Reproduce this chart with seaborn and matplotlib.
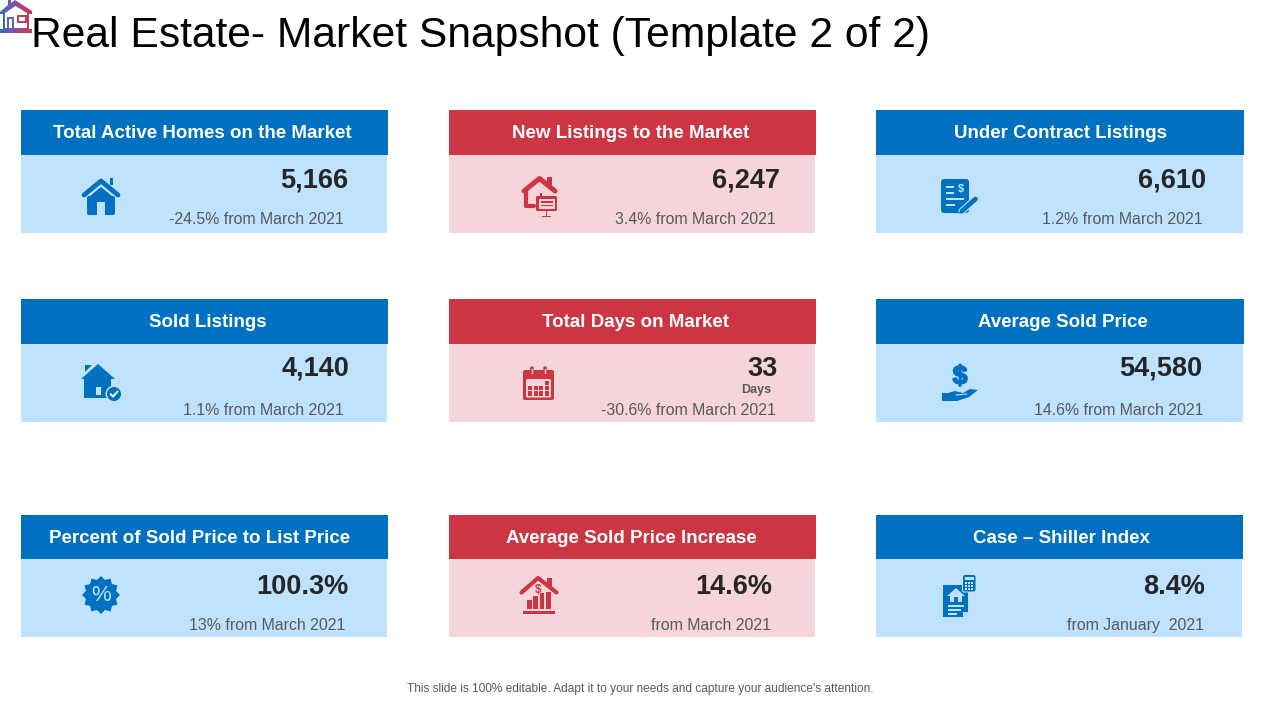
import numpy as np
import matplotlib
matplotlib.use('Agg')
import matplotlib.pyplot as plt
import matplotlib.patheffects as pe
import seaborn as sns
from matplotlib.patches import Rectangle, Polygon, Circle, FancyBboxPatch

# card contents, row by row
TITLES = ["Total Active Homes on the Market", "New Listings to the Market", "Under Contract Listings",
          "Sold Listings", "Total Days on Market", "Average Sold Price",
          "Percent of Sold Price to List Price", "Average Sold Price Increase", "Case \u2013 Shiller Index"]
VALUES = ["5,166", "6,247", "6,610",
          "4,140", "33", "54,580",
          "100.3%", "14.6%", "8.4%"]
CHANGES = ["-24.5% from March 2021", "3.4% from March 2021", "1.2% from March 2021",
           "1.1% from March 2021", "-30.6% from March 2021", "14.6% from March 2021",
           "13% from March 2021", "from March 2021", "from January  2021"]
SLIDE_TITLE = "Real Estate- Market Snapshot (Template 2 of 2)"
FOOTER = "This slide is 100% editable. Adapt it to your needs and capture your audience's attention."

BLUE = "#0070c0"
RED = "#cc3643"
LIGHT_BLUE = "#bfe2ff"
LIGHT_RED = "#f5d5d9"
BLACK_TXT = "#262626"
GREY_TXT = "#595959"

# layout in slide pixels
COL_X = [21, 449, 876]
ROW_Y = [110, 299, 515]
HEAD_H = [45, 45, 44]
BODY_BOTTOM = [233, 422, 637]
HEAD_W = [367, 367, 368, 367, 367, 368, 367, 367, 367]
BODY_W = [366, 366, 367, 366, 366, 367, 366, 366, 366]
TITLE_X = [202, 631, 1060, 208, 635, 1063, 200, 631, 1061]
VALUE_X = [348, 780, 1206, 349, 778, 1202, 348, 772, 1205]
CHANGE_X = [344, 776, 1203, 344, 776, 1204, 345, 771, 1204]
TITLE_BASE = [138, 327, 543]
VALUE_BASE = [187, 376, 594]
CHANGE_BASE = [224, 415, 630]

sns.set_theme(style="white")
plt.rcParams['font.family'] = ['Liberation Sans', 'DejaVu Sans']

fig = plt.figure(figsize=(12.8, 7.2), dpi=100)
ax = fig.add_axes([0, 0, 1, 1])
ax.set_xlim(0, 1280)
ax.set_ylim(720, 0)
ax.axis("off")


def poly(pts, color, ox, oy, z=4):
    ax.add_patch(Polygon([(ox + x, oy + y) for x, y in pts], closed=True, fc=color, ec="none", zorder=z))


def rect(x, y, w, h, color, z=4):
    ax.add_patch(Rectangle((x, y), w, h, fc=color, ec="none", zorder=z))


def round_rect(x, y, w, h, color, r=2, z=4):
    ax.add_patch(FancyBboxPatch((x + r, y + r), w - 2 * r, h - 2 * r, boxstyle=f"round,pad={r}",
                                fc=color, ec="none", zorder=z))


def line(xs, ys, color, lw=2, z=5):
    ax.plot(xs, ys, color=color, lw=lw, solid_capstyle="round", zorder=z)


def icon_home(ox, oy):
    line([ox + 2, ox + 19, ox + 36], [oy + 17, oy + 3, oy + 17], BLUE, lw=3.4)
    rect(ox + 28, oy, 3.2, 7, BLUE)
    round_rect(ox + 5, oy + 18, 28, 19, BLUE, r=2)
    poly([(19, 9), (33, 20.5), (5, 20.5)], BLUE, ox, oy)
    rect(ox + 15, oy + 24, 8, 13, LIGHT_BLUE, z=5)


def icon_listing(ox, oy):
    line([ox + 2, ox + 17.5, ox + 33], [oy + 15, oy + 2.5, oy + 15], RED, lw=3.6)
    rect(ox + 25, oy + 1, 4.5, 8, RED)
    line([ox + 4, ox + 4, ox + 12], [oy + 14, oy + 30, oy + 30], RED, lw=3)
    rect(ox + 18, oy + 17, 1.5, 3, RED)
    round_rect(ox + 14, oy + 20, 21, 15, RED, r=1.5)
    rect(ox + 16.5, oy + 23, 16, 9.5, LIGHT_RED, z=5)
    rect(ox + 18.5, oy + 25, 12, 1.6, RED, z=6)
    rect(ox + 18.5, oy + 28.5, 12, 1.6, RED, z=6)
    rect(ox + 23.5, oy + 35, 1.5, 6, RED)
    rect(ox + 20, oy + 40, 8.5, 1.3, RED)


def icon_contract(ox, oy):
    round_rect(ox, oy, 28, 34, BLUE, r=3)
    for yy, x1 in [(7, 13), (13, 13), (19, 23), (25, 14)]:
        rect(ox + 5, oy + yy, x1 - 5, 2, LIGHT_BLUE, z=5)
    ax.text(ox + 20, oy + 10, "$", color=LIGHT_BLUE, fontsize=8, fontweight="bold", ha="center", va="center", zorder=6)
    # pen
    line([ox + 21, ox + 34.5], [oy + 32, oy + 20], LIGHT_BLUE, lw=5, z=5)
    line([ox + 21, ox + 34.5], [oy + 32, oy + 20], BLUE, lw=3.4, z=6)
    poly([(18, 35), (19.5, 30), (23, 33.5)], BLUE, ox, oy, z=7)


def icon_sold(ox, oy):
    poly([(17, 0), (34, 15), (30, 15), (30, 34), (3, 34), (3, 15), (0, 15)], BLUE, ox, oy)
    poly([(4, 1), (11, 1), (4, 8)], BLUE, ox, oy)
    rect(ox + 15, oy + 23, 5, 8, LIGHT_BLUE, z=5)
    ax.add_patch(Circle((ox + 33, oy + 30), 8.5, fc=LIGHT_BLUE, ec="none", zorder=5))
    ax.add_patch(Circle((ox + 33, oy + 30), 7, fc=BLUE, ec="none", zorder=6))
    line([ox + 29.5, ox + 32, ox + 36.5], [oy + 30, oy + 32.5, oy + 27.5], "white", lw=1.4, z=7)


def icon_calendar(ox, oy):
    round_rect(ox, oy + 3, 31, 30, RED, r=2)
    for dx in (9, 22):
        line([ox + dx, ox + dx], [oy + 1, oy + 7], RED, lw=2.6, z=6)
        line([ox + dx, ox + dx], [oy + 1.5, oy + 5.5], LIGHT_RED, lw=1, z=7)
    round_rect(ox + 3, oy + 12, 25, 18.5, LIGHT_RED, r=1.5, z=5)
    cells = [(3, 0), (0, 1), (1, 1), (2, 1), (3, 1), (0, 2), (1, 2), (2, 2), (3, 2)]
    for col, row in cells:
        rect(ox + 5 + col * 5.5, oy + 14 + row * 5.2, 4.4, 4.2, RED, z=6)


def icon_hand(ox, oy):
    ax.text(ox + 18, oy + 11, "$", color=BLUE, fontsize=19, fontweight="bold", ha="center", va="center", zorder=5,
            path_effects=[pe.withStroke(linewidth=1.2, foreground=BLUE)])
    poly([(0, 27), (6, 27), (13, 25), (21, 27), (28, 23), (36, 24), (27, 31), (15, 35), (0, 35)], BLUE, ox, oy)
    line([ox + 14, ox + 25], [oy + 29, oy + 28], LIGHT_BLUE, lw=0.8, z=6)


def icon_percent(ox, oy):
    # scalloped star badge
    n = 12
    ang = np.arange(2 * n) * np.pi / n
    rad = np.where(np.arange(2 * n) % 2 == 0, 19, 15.5)
    pts = [(19 + r * np.sin(a), 19 - r * np.cos(a)) for r, a in zip(rad, ang)]
    poly(pts, BLUE, ox, oy)
    ax.text(ox + 19, oy + 19.5, "%", color=LIGHT_BLUE, fontsize=16, ha="center", va="center", zorder=6)


def icon_price_house(ox, oy):
    line([ox + 1.5, ox + 18, ox + 36.5], [oy + 16.5, oy + 2, oy + 16.5], RED, lw=3)
    rect(ox + 27, oy + 2, 5, 8, RED)
    ax.text(ox + 18, oy + 14, "$", color=RED, fontsize=8.5, fontweight="bold", ha="center", va="center", zorder=5)
    rect(ox + 7.3, oy + 24, 4.8, 9, RED)
    rect(ox + 13.3, oy + 20, 4.8, 13, RED)
    rect(ox + 19.5, oy + 17, 4.8, 16, RED)
    rect(ox + 26, oy + 16, 5, 17, RED)
    rect(ox + 2.7, oy + 34.5, 32.3, 3.5, RED)


def icon_calc_doc(ox, oy):
    poly([(0, 11), (25, 11), (25, 38), (20, 43), (0, 43)], BLUE, ox, oy)
    poly([(20, 38), (25, 38), (20, 43)], LIGHT_BLUE, ox, oy, z=5)
    poly([(13, 14), (22, 22), (19, 22), (19, 28), (7, 28), (7, 22), (4, 22)], LIGHT_BLUE, ox, oy, z=5)
    rect(ox + 11, oy + 23, 4, 5, BLUE, z=6)
    for yy, x2 in [(31, 21), (35, 18), (39, 14)]:
        rect(ox + 5, oy + yy, x2 - 5, 1.5, LIGHT_BLUE, z=5)
    round_rect(ox + 19, oy, 14.5, 18.5, LIGHT_BLUE, r=2, z=5)
    round_rect(ox + 20, oy + 1, 12.5, 16.5, BLUE, r=2, z=6)
    rect(ox + 22, oy + 3, 8.5, 3, LIGHT_BLUE, z=7)
    for cy in (8, 11, 14):
        for cx in (22, 25.2, 28.4):
            rect(ox + cx, oy + cy, 2, 2, LIGHT_BLUE, z=7)


ICONS = [icon_home, icon_listing, icon_contract, icon_sold, icon_calendar, icon_hand,
         icon_percent, icon_price_house, icon_calc_doc]
ICON_XY = [(82, 178), (522, 176), (941, 179), (81, 364), (523, 367), (942, 366),
           (82, 576), (520, 576), (943, 574)]

# cards
for i, (title, value, change) in enumerate(zip(TITLES, VALUES, CHANGES)):
    row, col = divmod(i, 3)
    is_red = col == 1
    x0 = COL_X[col]
    y0 = ROW_Y[row]
    rect(x0, y0 + HEAD_H[row], BODY_W[i], BODY_BOTTOM[row] - y0 - HEAD_H[row], LIGHT_RED if is_red else LIGHT_BLUE, z=1)
    rect(x0, y0, HEAD_W[i], HEAD_H[row], RED if is_red else BLUE, z=2)
    ax.text(TITLE_X[i], TITLE_BASE[row], title, color="white", fontsize=13.5, fontweight="bold",
            ha="center", va="baseline", zorder=3)
    ax.text(VALUE_X[i], VALUE_BASE[row], value, color=BLACK_TXT, fontsize=19.5, fontweight="bold",
            ha="right", va="baseline", zorder=3)
    ax.text(CHANGE_X[i], CHANGE_BASE[row], change, color=GREY_TXT, fontsize=11.4,
            ha="right", va="baseline", zorder=3)
    ICONS[i](*ICON_XY[i])

ax.text(771, 393, "Days", color=GREY_TXT, fontsize=9, fontweight="bold", ha="right", va="baseline", zorder=3)

# slide title and footer
ax.text(31, 47, SLIDE_TITLE, color="black", fontsize=30.7, ha="left", va="baseline")
ax.text(640, 692, FOOTER, color=GREY_TXT, fontsize=8.6, ha="center", va="baseline")

# logo with a blue to red gradient, clipped to the house shape
grad = np.linspace(0, 1, 64).reshape(1, -1)
cmap = sns.blend_palette(["#2f6fc0", "#8a4f9c", "#d8344a"], as_cmap=True)
logo = ax.imshow(grad, extent=(0, 32, 33, 0), cmap=cmap, aspect="auto", zorder=4)
clip = Polygon([(0, 12), (8, 5), (8, 0), (11, 0), (11, 3), (15, 0), (32, 11), (32, 14), (29, 14), (29, 29), (32, 29),
                (32, 33), (0, 33), (0, 29), (3, 29), (3, 14), (0, 14)], closed=True, transform=ax.transData)
logo.set_clip_path(clip)
rect(5, 13, 22, 15, "white", z=5)
poly([(5, 13), (15.5, 6), (27, 13)], "white", 0, 0, z=5)
rect(7, 17, 7, 11, "#5a62b2", z=6)
rect(9, 19, 3, 9, "white", z=7)
rect(17, 15, 10, 8, "#b8425f", z=6)
rect(19, 17, 6, 4, "white", z=7)
ax.set_xlim(0, 1280)
ax.set_ylim(720, 0)

fig.savefig("out.png", dpi=100, facecolor="white")
